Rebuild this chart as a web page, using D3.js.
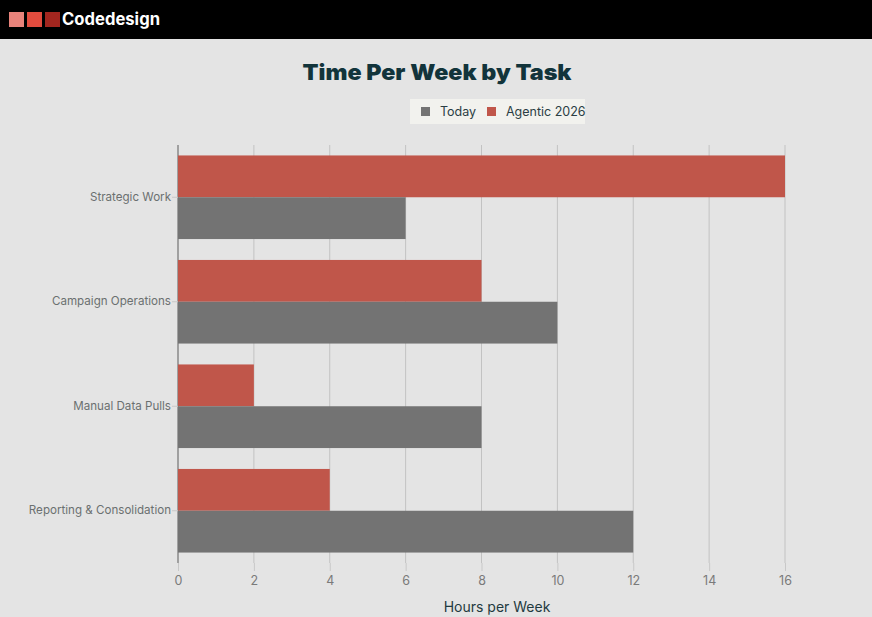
<!DOCTYPE html>
<html><head><meta charset="utf-8">
<script src="https://cdn.jsdelivr.net/npm/d3@7"></script>
<style>
html,body{margin:0;padding:0;background:#e4e4e4;}
svg{display:block;}
</style></head>
<body>
<svg id="chart" width="872" height="617"></svg>
<script>
const categories = ["Strategic Work", "Campaign Operations", "Manual Data Pulls", "Reporting & Consolidation"];
const seriesNames = ["Agentic 2026", "Today"];
const todayValues = [6, 10, 8, 12];
const agenticValues = [16, 8, 2, 4];
const xTicks = [0, 2, 4, 6, 8, 10, 12, 14, 16];
const colors = {"Today": "#737373", "Agentic 2026": "#c0564a"};

const svg = d3.select("#chart");
const W = 872, H = 617;
svg.append("rect").attr("width", W).attr("height", H).attr("fill", "#e4e4e4");

// header
svg.append("rect").attr("width", W).attr("height", 39).attr("fill", "#000");
const logoColors = ["#e8837b", "#e24c3e", "#a2261f"];
logoColors.forEach((c, i) => {
  svg.append("rect").attr("x", 9 + i * 18).attr("y", 12).attr("width", 15).attr("height", 15).attr("fill", c);
});
svg.append("text").attr("x", 62).attr("y", 25).attr("fill", "#fff")
  .attr("font-family", "Inter, sans-serif").attr("font-weight", 700).attr("font-size", 17)
  .attr("textLength", 98).attr("lengthAdjust", "spacingAndGlyphs")
  .text("Codedesign");

// title
svg.append("text").attr("x", 437).attr("y", 80).attr("text-anchor", "middle")
  .attr("fill", "#12343b").attr("font-family", "Inter, sans-serif").attr("font-weight", 900).attr("font-size", 22)
  .attr("textLength", 269).attr("lengthAdjust", "spacingAndGlyphs")
  .text("Time Per Week by Task");

// legend
const lg = svg.append("g");
lg.append("rect").attr("x", 410).attr("y", 99).attr("width", 175).attr("height", 25).attr("fill", "#f2f2ee");
const legendItems = [{name: "Today", x: 421}, {name: "Agentic 2026", x: 487}];
legendItems.forEach(it => {
  lg.append("rect").attr("x", it.x).attr("y", 107).attr("width", 9).attr("height", 9).attr("fill", colors[it.name]);
  lg.append("text").attr("x", it.x + 19).attr("y", 116).attr("fill", "#2b3e44")
    .attr("font-family", "Inter, sans-serif").attr("font-size", 12.5).text(it.name);
});

const m = {left: 178, right: 87, top: 145, bottom: 54};
const x = d3.scaleLinear().domain([0, 16]).range([m.left, W - m.right]);
const y = d3.scaleBand().domain(categories).range([m.top, H - m.bottom]).paddingInner(0.2).paddingOuter(0.1);
const sub = d3.scaleBand().domain(seriesNames).range([0, y.bandwidth()]);

// gridlines
svg.append("g").selectAll("line").data(xTicks).join("line")
  .attr("x1", d => x(d)).attr("x2", d => x(d))
  .attr("y1", m.top).attr("y2", H - m.bottom)
  .attr("stroke", d => d === 0 ? "#8a8a8a" : "#c2c2c2").attr("stroke-width", d => d === 0 ? 1.5 : 1);

// bars
const data = [];
categories.forEach((c, i) => {
  data.push({cat: c, series: "Agentic 2026", value: agenticValues[i]});
  data.push({cat: c, series: "Today", value: todayValues[i]});
});
svg.append("g").selectAll("rect").data(data).join("rect")
  .attr("x", x(0)).attr("y", d => y(d.cat) + sub(d.series))
  .attr("width", d => x(d.value) - x(0)).attr("height", sub.bandwidth())
  .attr("fill", d => colors[d.series]);

// x axis
const xa = svg.append("g").attr("transform", `translate(0,${H - m.bottom})`)
  .call(d3.axisBottom(x).tickValues(xTicks).tickSize(8).tickPadding(5));
xa.select(".domain").remove();
xa.selectAll("line").attr("stroke", "#c8c8c8");
xa.selectAll("text").attr("fill", "#7a7a7a").attr("font-family", "Inter, sans-serif").attr("font-size", 12.5);

// y axis
const ya = svg.append("g").attr("transform", `translate(${m.left},0)`)
  .call(d3.axisLeft(y).tickSize(6).tickPadding(1));
ya.select(".domain").remove();
ya.selectAll("line").attr("stroke", "#c8c8c8");
ya.selectAll("text").attr("fill", "#6b7070").attr("font-family", "Inter, sans-serif").attr("font-size", 11.6);

// axis title
svg.append("text").attr("x", 497).attr("y", 612).attr("text-anchor", "middle")
  .attr("fill", "#1f3a40").attr("font-family", "Inter, sans-serif").attr("font-size", 14)
  .text("Hours per Week");
</script>
</body></html>
